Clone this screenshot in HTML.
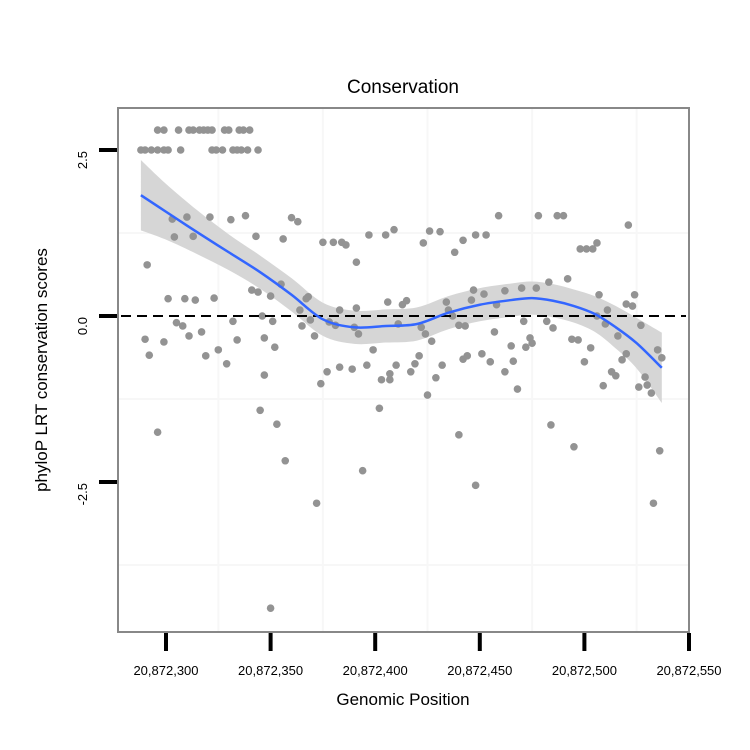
<!DOCTYPE html>
<html><head><meta charset="utf-8"><style>
html,body{margin:0;padding:0;background:#fff}
svg{display:block;font-family:"Liberation Sans",Arial,sans-serif}
</style></head><body>
<svg id="chart" width="750" height="750" viewBox="0 0 750 750" xmlns="http://www.w3.org/2000/svg">
<rect x="0" y="0" width="750" height="750" fill="#fff"/>
<g id="grid"></g>
<g id="ribbon"></g>
<g id="points"></g>
<line id="zeroline" stroke="#000" stroke-width="2" stroke-dasharray="10,6"/>
<g id="smooth"></g>
<rect x="118" y="108" width="571" height="524" fill="none" stroke="#888" stroke-width="2"/>
<g id="axes"></g>
<text x="403" y="93" text-anchor="middle" font-size="19" fill="#000">Conservation</text>
<text x="403" y="705" text-anchor="middle" font-size="17" fill="#000">Genomic Position</text>
<text transform="translate(47,370) rotate(-90)" text-anchor="middle" font-size="17" fill="#000">phyloP LRT conservation scores</text>
</svg>
<script>
const positions = [288,290,293,296,299,301,307,322,324,327,332,334,336,339,344,
296,299,306,311,313,316,318,320,322,328,330,335,337,340,
291,290,292,296,299,301,303,304,305,308,309,310,311,313,314,317,319,321,323,325,329,331,332,334,338,341,343,344,345,346,347,347,350,350,351,352,353,355,356,357,360,363,364,365,367,368,369,371,372,374,375,377,378,380,381,383,383,384,386,389,390,391,391,392,394,396,397,399,402,403,405,406,407,407,409,410,411,413,415,417,419,421,422,423,424,425,426,427,429,431,432,434,435,437,438,440,440,442,442,443,444,446,447,448,448,451,452,453,455,457,458,459,462,462,465,466,468,470,471,472,474,475,477,478,482,483,484,485,487,490,492,494,495,497,498,500,501,503,504,506,506,507,509,510,511,513,515,516,518,520,520,521,523,524,526,527,529,530,532,533,535,536,537];
const scores = [2.5,2.5,2.5,2.5,2.5,2.5,2.5,2.5,2.5,2.5,2.5,2.5,2.5,2.5,2.5,
2.8,2.8,2.8,2.8,2.8,2.8,2.8,2.8,2.8,2.8,2.8,2.8,2.8,2.8,
0.77,-0.35,-0.59,-1.75,-0.39,0.26,1.46,1.19,-0.1,-0.15,0.26,1.49,-0.3,1.2,0.24,-0.24,-0.6,1.49,0.27,-0.51,-0.72,1.45,-0.08,-0.36,1.51,0.39,1.2,0.36,-1.42,0,-0.33,-0.89,0.3,-4.4,-0.08,-0.47,-1.63,0.48,1.16,-2.18,1.48,1.42,0.09,-0.15,0.26,0.29,-0.06,-0.3,-2.82,-1.02,1.11,-0.84,-0.09,1.11,-0.14,0.09,-0.77,1.11,1.07,-0.8,-0.17,0.81,0.12,-0.27,-2.33,-0.74,1.22,-0.51,-1.39,-0.96,1.22,0.21,-0.96,-0.87,1.3,-0.74,-0.12,0.17,0.23,-0.84,-0.72,-0.6,-0.17,1.1,-0.27,-1.19,1.28,-0.38,-0.93,1.27,-0.74,0.21,0.09,0,0.96,-0.14,-1.79,-0.65,1.14,-0.15,-0.6,0.24,0.39,1.22,-2.55,-0.57,0.33,1.22,-0.69,-0.24,0.17,1.51,0.38,-0.84,-0.45,-0.68,-1.1,0.42,-0.08,-0.47,-0.33,-0.41,0.42,1.51,-0.08,0.51,-1.64,-0.18,1.51,1.51,0.56,-0.35,-1.97,-0.36,1.01,-0.69,1.01,-0.48,1.01,0,1.1,0.32,-1.05,-0.12,0.09,-0.84,-0.9,-0.3,-0.66,-0.57,0.18,1.37,0.15,0.32,-1.07,-0.14,-0.92,-1.04,-1.16,-2.82,-0.51,-2.03,-0.63];
const smoothX = [288,300,315,330,345,360,375,390,405,420,435,450,465,475,485,495,505,515,525,537];
const smoothY = [1.82,1.57,1.26,0.96,0.66,0.32,-0.05,-0.17,-0.15,-0.12,0.05,0.17,0.24,0.27,0.23,0.15,0.03,-0.17,-0.41,-0.78];
const smoothSE = [0.53,0.42,0.33,0.27,0.25,0.25,0.25,0.25,0.25,0.25,0.25,0.25,0.25,0.25,0.25,0.25,0.27,0.32,0.38,0.53];
const xTicks = [300,350,400,450,500,550];
const xTickLabels = ["20,872,300","20,872,350","20,872,400","20,872,450","20,872,500","20,872,550"];
const yTicks = [2.5,0,-2.5];
const yTickLabels = ["2.5","0.0","-2.5"];
const xMinor = [325,375,425,475,525];
const yMinor = [1.25,-1.25,-3.75];

const NS = "http://www.w3.org/2000/svg";
function xs(v){ return 166 + (v-300)*2.092; }
function ys(v){ return 316 - v*66.4; }
function mk(tag, attrs, parent){
  const e = document.createElementNS(NS, tag);
  for (const k in attrs) e.setAttribute(k, attrs[k]);
  parent.appendChild(e);
  return e;
}
function spline(pts){
  let d = 'M' + pts[0][0] + ',' + pts[0][1];
  for (let i=0;i<pts.length-1;i++){
    const p0 = pts[Math.max(0,i-1)], p1 = pts[i], p2 = pts[i+1], p3 = pts[Math.min(pts.length-1,i+2)];
    const c1x = p1[0]+(p2[0]-p0[0])/6, c1y = p1[1]+(p2[1]-p0[1])/6;
    const c2x = p2[0]-(p3[0]-p1[0])/6, c2y = p2[1]-(p3[1]-p1[1])/6;
    d += ' C'+c1x+','+c1y+' '+c2x+','+c2y+' '+p2[0]+','+p2[1];
  }
  return d;
}
const grid = document.getElementById('grid');
xMinor.forEach(v=>{
  const l = mk('line',{x1:xs(v),x2:xs(v),y1:108,y2:632,stroke:'#f7f7f7','stroke-width':2},grid);
  
  
});
yMinor.forEach(v=>{
  const l = mk('line',{x1:118,x2:689,y1:ys(v),y2:ys(v),stroke:'#f7f7f7','stroke-width':2},grid);
  
  
});
const upPts = smoothX.map((x,i)=>[xs(x),ys(smoothY[i]+smoothSE[i])]);
const loPts = smoothX.map((x,i)=>[xs(x),ys(smoothY[i]-smoothSE[i])]).reverse();
const rib = mk('path',{d:spline(upPts)+' L'+spline(loPts).slice(1)+' Z',fill:'#d6d6d6'},document.getElementById('ribbon'));


const pg = document.getElementById('points');
positions.forEach((p,i)=>{
  const c = mk('circle',{cx:xs(p),cy:ys(scores[i]),r:3.8,fill:'#939393'},pg);
  
  
});
const z = document.getElementById('zeroline');
z.setAttribute('x1',121); z.setAttribute('x2',686);
z.setAttribute('y1',ys(0)); z.setAttribute('y2',ys(0));
const sl = mk('path',{d:spline(smoothX.map((x,i)=>[xs(x),ys(smoothY[i])])),fill:'none',stroke:'#3366ff','stroke-width':2.5},document.getElementById('smooth'));


const ax = document.getElementById('axes');
xTicks.forEach((v,i)=>{
  const t = mk('line',{x1:xs(v),x2:xs(v),y1:633,y2:651,stroke:'#000','stroke-width':4},ax);
  
  
  const tx = mk('text',{x:xs(v),y:675,'text-anchor':'middle','font-size':13,fill:'#000'},ax);
  tx.textContent = xTickLabels[i];
  
  
});
yTicks.forEach((v,i)=>{
  const t = mk('line',{x1:99,x2:117,y1:ys(v),y2:ys(v),stroke:'#000','stroke-width':4},ax);
  
  
  const tx = mk('text',{transform:'translate(87,'+(ys(v)+1)+') rotate(-90)','text-anchor':'end','font-size':13,fill:'#000'},ax);
  tx.textContent = yTickLabels[i];
  
  
});
</script>
</body></html>
